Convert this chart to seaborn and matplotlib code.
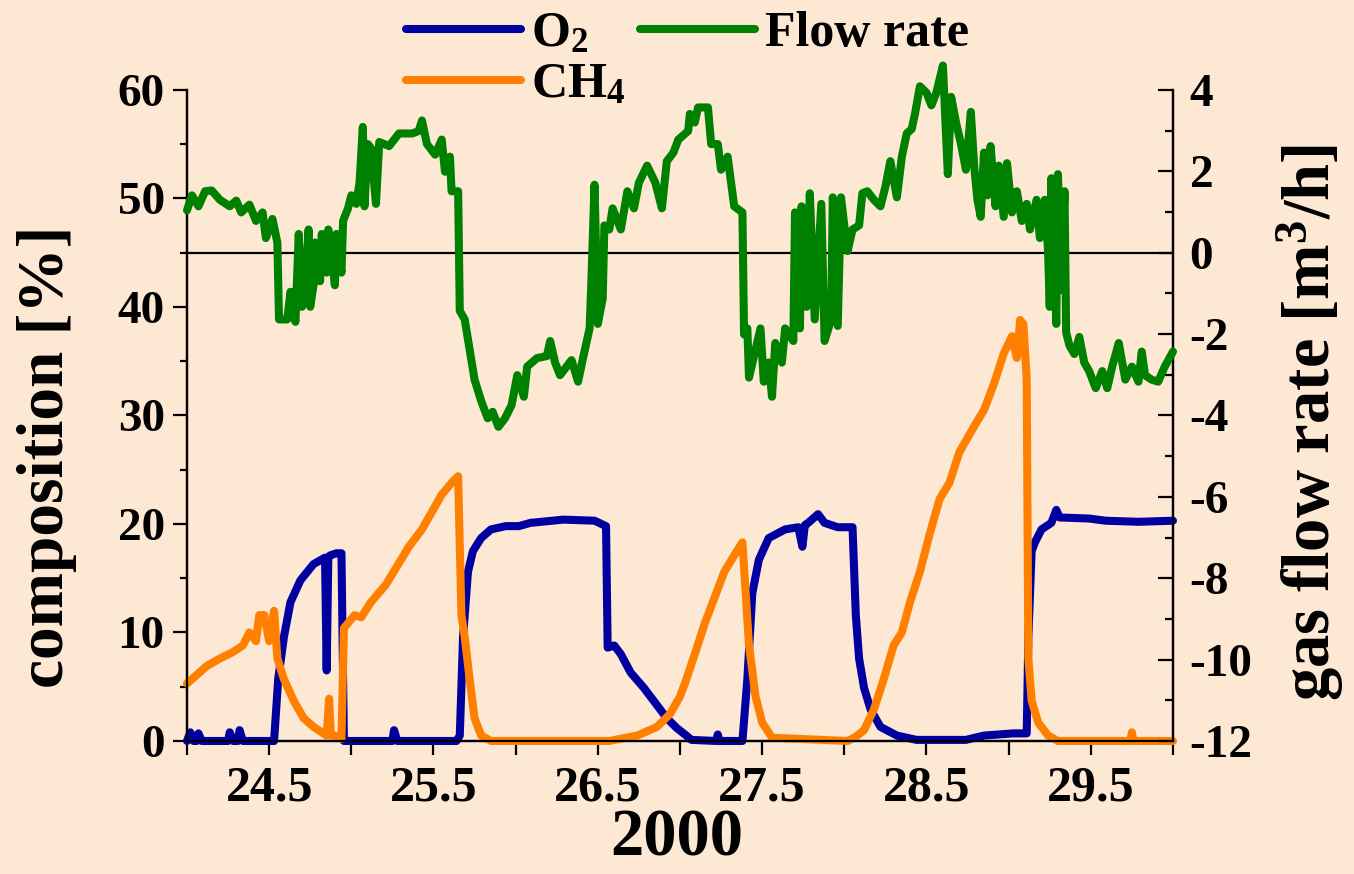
import numpy as np
import pandas as pd
import matplotlib
matplotlib.use("Agg")
import matplotlib.pyplot as plt
import seaborn as sns
from matplotlib.ticker import MultipleLocator, FixedLocator

sns.set_style("ticks")
plt.rcParams['font.family'] = ['Liberation Serif', 'DejaVu Serif']
plt.rcParams['font.weight'] = 'bold'
plt.rcParams['mathtext.fontset'] = 'custom'
plt.rcParams['mathtext.rm'] = 'Liberation Serif:bold'
plt.rcParams['mathtext.bf'] = 'Liberation Serif:bold'
plt.rcParams['mathtext.it'] = 'Liberation Serif:bold'
plt.rcParams['axes.unicode_minus'] = False
for k in ('text.color', 'axes.labelcolor', 'xtick.color', 'ytick.color'):
    plt.rcParams[k] = 'black'

# O2 composition [%]
o2_t = [24.00, 24.02, 24.04, 24.06, 24.07, 24.09, 24.25, 24.26, 24.28, 24.31,
        24.32, 24.34, 24.53, 24.555, 24.59, 24.63, 24.69, 24.77, 24.84, 24.85,
        24.86, 24.87, 24.91, 24.94, 24.955, 25.00, 25.20, 25.25, 25.26, 25.28,
        25.40, 25.64, 25.66, 25.68, 25.71, 25.74, 25.79, 25.85, 25.94, 26.02,
        26.09, 26.29, 26.48, 26.55, 26.56, 26.60, 26.64, 26.70, 26.78, 26.86,
        26.92, 26.98, 27.03, 27.07, 27.22, 27.23, 27.24, 27.38, 27.41, 27.44,
        27.48, 27.54, 27.64, 27.72, 27.745, 27.76, 27.78, 27.84, 27.88, 27.96,
        28.05, 28.07, 28.09, 28.12, 28.16, 28.22, 28.32, 28.44, 28.74, 28.85,
        29.03, 29.11, 29.12, 29.14, 29.16, 29.20, 29.26, 29.29, 29.31, 29.49,
        29.59, 29.79, 30.00]
o2_v = [0.0, 0.8, 0.0, 0.0, 0.7, 0.0, 0.0, 0.8, 0.0, 0.0,
        1.0, 0.0, 0.0, 5.7, 9.6, 12.8, 14.8, 16.3, 16.9, 6.5,
        16.9, 17.1, 17.3, 17.3, 0.0, 0.0, 0.0, 0.0, 1.0, 0.0,
        0.0, 0.0, 0.5, 9.6, 15.6, 17.5, 18.7, 19.5, 19.8, 19.8,
        20.1, 20.4, 20.3, 19.8, 8.6, 8.8, 8.0, 6.3, 4.9, 3.3,
        2.1, 1.2, 0.6, 0.1, 0.0, 0.6, 0.0, 0.0, 5.7, 13.6,
        16.7, 18.7, 19.5, 19.7, 17.9, 19.9, 20.1, 20.9, 20.1, 19.7,
        19.7, 11.6, 7.6, 4.9, 2.9, 1.3, 0.5, 0.1, 0.1, 0.5,
        0.7, 0.7, 9.6, 17.5, 18.3, 19.5, 20.1, 21.3, 20.6, 20.5,
        20.3, 20.2, 20.3]

# CH4 composition [%]
ch4_t = [24.00, 24.06, 24.12, 24.20, 24.28, 24.34, 24.38, 24.42, 24.44, 24.47,
         24.50, 24.53, 24.55, 24.59, 24.65, 24.71, 24.77, 24.85, 24.865, 24.875,
         24.90, 24.94, 24.955, 25.02, 25.06, 25.12, 25.21, 25.27, 25.35, 25.43,
         25.49, 25.55, 25.61, 25.65, 25.67, 25.69, 25.72, 25.75, 25.79, 25.85,
         26.57, 26.74, 26.86, 26.94, 27.00, 27.03, 27.09, 27.15, 27.21, 27.27,
         27.33, 27.38, 27.40, 27.42, 27.46, 27.50, 27.56, 28.02, 28.07, 28.12,
         28.18, 28.24, 28.30, 28.35, 28.40, 28.46, 28.52, 28.58, 28.64, 28.70,
         28.79, 28.85, 28.91, 28.97, 29.02, 29.05, 29.07, 29.09, 29.11, 29.12,
         29.14, 29.18, 29.24, 29.30, 29.74, 29.75, 29.76, 30.00]
ch4_v = [5.3, 6.1, 6.9, 7.6, 8.2, 8.8, 10.0, 9.2, 11.6, 11.6,
         9.2, 12.0, 7.6, 5.7, 3.7, 2.1, 1.3, 0.5, 3.9, 0.5,
         0.5, 0.2, 10.4, 11.6, 11.4, 12.8, 14.4, 15.9, 17.9, 19.5,
         21.1, 22.7, 23.8, 24.4, 11.6, 9.6, 5.7, 2.1, 0.5, 0.0,
         0.0, 0.5, 1.3, 2.5, 4.1, 5.3, 8.0, 10.8, 13.2, 15.6,
         17.1, 18.3, 13.6, 8.8, 4.1, 1.7, 0.3, 0.0, 0.4, 1.0,
         2.9, 5.7, 8.8, 10.0, 12.8, 15.6, 19.1, 22.3, 23.8, 26.6,
         29.0, 30.5, 32.9, 35.7, 37.3, 35.3, 38.8, 38.4, 33.3, 7.6,
         3.7, 1.7, 0.5, 0.0, 0.0, 0.8, 0.0, 0.0]

# gas flow rate [m3/h]
flow_t = [24.00, 24.03, 24.07, 24.11, 24.15, 24.20, 24.26, 24.30, 24.33, 24.38,
          24.42, 24.46, 24.48, 24.52, 24.55, 24.56, 24.61, 24.63, 24.66, 24.68,
          24.70, 24.72, 24.74, 24.75, 24.77, 24.78, 24.81, 24.82, 24.85, 24.86,
          24.90, 24.91, 24.94, 24.95, 24.98, 25.00, 25.03, 25.05, 25.07, 25.08,
          25.10, 25.12, 25.15, 25.17, 25.23, 25.29, 25.37, 25.41, 25.43, 25.46,
          25.51, 25.55, 25.57, 25.60, 25.61, 25.65, 25.66, 25.69, 25.72, 25.75,
          25.79, 25.83, 25.86, 25.895, 25.935, 25.975, 26.01, 26.05, 26.07, 26.13,
          26.19, 26.21, 26.24, 26.27, 26.34, 26.38, 26.41, 26.45, 26.46, 26.48,
          26.50, 26.53, 26.54, 26.57, 26.59, 26.64, 26.68, 26.72, 26.75, 26.80,
          26.85, 26.89, 26.92, 26.96, 26.99, 27.05, 27.06, 27.09, 27.11, 27.17,
          27.19, 27.23, 27.25, 27.29, 27.33, 27.38, 27.39, 27.41, 27.42, 27.46,
          27.49, 27.51, 27.54, 27.56, 27.58, 27.62, 27.64, 27.69, 27.70, 27.73,
          27.74, 27.77, 27.79, 27.82, 27.86, 27.88, 27.92, 27.93, 27.96, 27.98,
          28.00, 28.02, 28.05, 28.09, 28.11, 28.14, 28.18, 28.22, 28.25, 28.28,
          28.32, 28.35, 28.38, 28.41, 28.43, 28.46, 28.50, 28.53, 28.56, 28.60,
          28.63, 28.65, 28.68, 28.71, 28.74, 28.77, 28.79, 28.81, 28.83, 28.85,
          28.87, 28.89, 28.92, 28.94, 28.97, 28.99, 29.02, 29.05, 29.08, 29.11,
          29.13, 29.17, 29.19, 29.22, 29.24, 29.25, 29.26, 29.29, 29.30, 29.32,
          29.34, 29.35, 29.37, 29.40, 29.43, 29.46, 29.49, 29.53, 29.57, 29.60,
          29.63, 29.67, 29.71, 29.75, 29.79, 29.81, 29.83, 29.87, 29.91, 29.95,
          30.00]
flow_v = [1.04, 1.41, 1.14, 1.51, 1.53, 1.30, 1.14, 1.28, 0.99, 1.18,
          0.78, 0.99, 0.36, 0.83, 0.25, -1.64, -1.64, -0.96, -1.70, 0.46,
          -1.33, -0.80, 0.57, -1.33, -0.80, 0.25, -0.70, 0.46, -0.49, 0.57,
          -0.80, 0.46, -0.49, 0.78, 1.09, 1.41, 1.20, 1.72, 3.09, 1.14,
          2.67, 2.57, 1.20, 2.72, 2.62, 2.93, 2.93, 2.99, 3.25, 2.67,
          2.41, 2.78, 1.99, 2.36, 1.51, 1.51, -1.43, -1.64, -2.38, -3.12,
          -3.64, -4.07, -3.91, -4.28, -4.07, -3.75, -3.01, -3.54, -2.80, -2.59,
          -2.54, -2.17, -2.70, -3.01, -2.64, -3.17, -2.59, -1.86, -0.80, 1.67,
          -1.75, -1.12, 0.67, 0.57, 1.09, 0.57, 1.51, 1.09, 1.72, 2.14,
          1.72, 1.09, 2.25, 2.46, 2.78, 2.99, 3.41, 3.20, 3.57, 3.57,
          2.67, 2.67, 2.04, 2.36, 1.14, 0.99, -2.01, -1.86, -3.07, -2.38,
          -1.86, -3.17, -2.70, -3.54, -2.22, -2.70, -1.86, -2.17, 0.99, -1.86,
          1.14, -1.33, 1.46, -1.64, 1.20, -2.17, -1.64, 1.36, -1.80, 1.36,
          0.67, 0.04, 0.57, 0.67, 1.46, 1.51, 1.30, 1.14, 1.62, 2.25,
          1.36, 2.36, 2.93, 3.04, 3.41, 4.09, 3.93, 3.62, 3.93, 4.60,
          1.93, 3.83, 3.20, 2.67, 2.04, 3.46, 2.14, 1.30, 0.88, 2.46,
          1.41, 2.62, 1.14, 2.14, 0.88, 2.20, 0.99, 1.51, 0.78, 1.20,
          0.57, 1.30, 0.36, 1.30, 0.04, -1.33, 1.83, -1.75, 1.93, -0.91,
          1.51, -1.96, -2.28, -2.49, -2.07, -2.70, -2.91, -3.33, -2.91, -3.33,
          -2.80, -2.22, -3.12, -2.80, -3.17, -2.43, -3.01, -3.12, -3.17, -2.80,
          -2.43]

xticks_major = [24.5, 25.5, 26.5, 27.5, 28.5, 29.5]

bg = '#FDE8D4'
c_o2 = '#0000A0'
c_ch4 = '#FF8000'
c_flow = '#008000'

o2 = pd.DataFrame({'t': o2_t, 'v': o2_v})
ch4 = pd.DataFrame({'t': ch4_t, 'v': ch4_v})
flow = pd.DataFrame({'t': flow_t, 'v': flow_v})

fig = plt.figure(figsize=(13.54, 8.74), dpi=100, facecolor=bg)
ax = fig.add_axes([0.1381, 0.1522, 0.7282, 0.7449])
ax.set_facecolor(bg)
ax2 = ax.twinx()

lkw = dict(sort=False, estimator=None, lw=5.8, solid_capstyle='round',
           solid_joinstyle='round', clip_on=False, legend=False)
sns.lineplot(data=o2, x='t', y='v', ax=ax, color=c_o2, zorder=3, **lkw)
sns.lineplot(data=ch4, x='t', y='v', ax=ax, color=c_ch4, zorder=4, **lkw)
ax2.axhline(0, color='black', lw=1.6, zorder=1)
sns.lineplot(data=flow, x='t', y='v', ax=ax2, color=c_flow, zorder=3, **lkw)

ax.set_xlim(24, 30)
ax.set_ylim(0, 60)
ax2.set_ylim(-12, 4)

ax.xaxis.set_major_locator(FixedLocator(xticks_major))
ax.xaxis.set_minor_locator(MultipleLocator(1))
ax.yaxis.set_major_locator(MultipleLocator(10))
ax.yaxis.set_minor_locator(MultipleLocator(5))
ax2.yaxis.set_major_locator(MultipleLocator(2))
ax2.yaxis.set_minor_locator(MultipleLocator(1))

for a in (ax, ax2):
    a.spines['top'].set_visible(False)
    for s in ('left', 'right', 'bottom'):
        a.spines[s].set_linewidth(1.6)
        a.spines[s].set_color('black')

ax.tick_params(axis='x', which='major', direction='out', length=10, width=1.6,
               labelsize=36, pad=8)
ax.tick_params(axis='x', which='minor', direction='out', length=10, width=1.6)
ax.tick_params(axis='y', which='major', direction='out', length=10, width=1.6,
               labelsize=34, pad=6)
ax.tick_params(axis='y', which='minor', direction='out', length=5, width=1.6)
ax2.tick_params(axis='y', which='major', direction='in', length=11, width=1.6,
                labelsize=34, pad=12)
ax2.tick_params(axis='y', which='minor', direction='in', length=6, width=1.6)

ax.set_xlabel('2000', fontsize=48, fontweight='bold')
ax.xaxis.set_label_coords(0.497, -0.104)
ax.set_ylabel('composition [%]', fontsize=47, fontweight='bold')
ax.yaxis.set_label_coords(-0.112, 0.436)
ax2.set_ylabel('gas flow rate [m$^{3}$/h]', fontsize=48, fontweight='bold')
ax2.yaxis.set_label_coords(1.103, 0.49)

handles = [ax.lines[0], ax.lines[1], ax2.lines[-1]]
labels = ['O$_{2}$', 'CH$_{4}$', 'Flow rate']
fig.legend(handles, labels, loc='upper center', bbox_to_anchor=(0.508, 1.01),
           ncol=2, frameon=False, fontsize=36, handlelength=2.3,
           handletextpad=0.2, columnspacing=0.3, labelspacing=0.1,
           borderaxespad=0)

fig.savefig('out.png', dpi=100, facecolor=bg)
